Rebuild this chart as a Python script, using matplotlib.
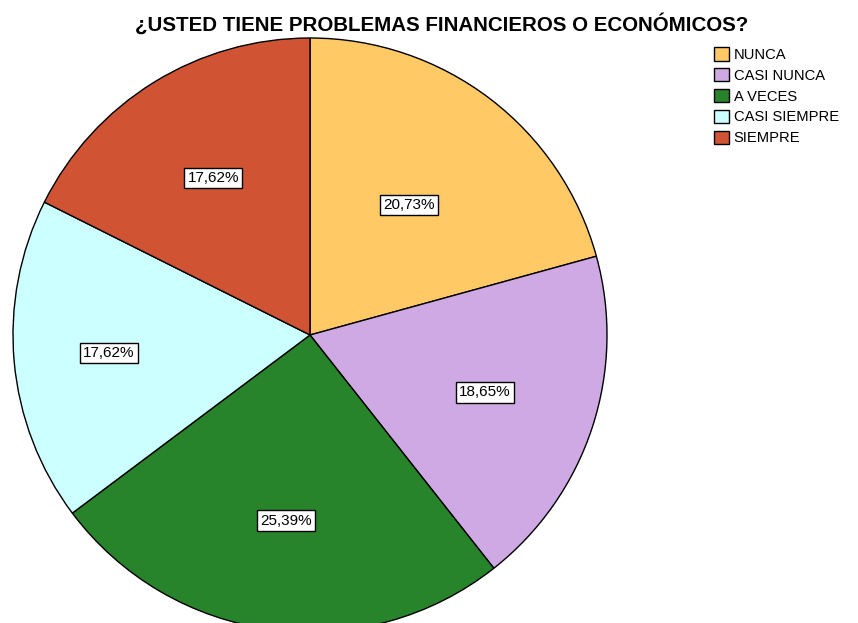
import numpy as np
import matplotlib
matplotlib.use("Agg")
from matplotlib import pyplot as plt
from matplotlib.patches import Patch

plt.rcParams['font.family'] = ['Liberation Sans', 'DejaVu Sans']

categorias = ["NUNCA", "CASI NUNCA", "A VECES", "CASI SIEMPRE", "SIEMPRE"]
porcentajes = [20.73, 18.65, 25.39, 17.62, 17.62]
colores = ["#FFCA66", "#CFA9E3", "#28842A", "#CCFFFF", "#D05434"]
etiquetas = ["20,73%", "18,65%", "25,39%", "17,62%", "17,62%"]
titulo = "¿USTED TIENE PROBLEMAS FINANCIEROS O ECONÓMICOS?"

fig = plt.figure(figsize=(8.58, 6.23), dpi=100)

# ejes del pastel (centro ~ (310,335) px, radio ~297 px)
ax = fig.add_axes([13/858, -9/623, 594/858, 594/623])
wedges, _ = ax.pie(porcentajes, colors=colores, startangle=90, counterclock=False,
                   radius=1, wedgeprops=dict(edgecolor="black", linewidth=1))
ax.set_xlim(-1, 1)
ax.set_ylim(-1, 1)
ax.set_aspect("equal")
ax.axis("off")

# distancia radial de cada etiqueta
dist = [0.55, 0.62, 0.63, 0.68, 0.62]
for w, lab, d in zip(wedges, etiquetas, dist):
    ang = np.deg2rad((w.theta1 + w.theta2) / 2)
    ax.text(d*np.cos(ang), d*np.sin(ang), lab, ha="center", va="center", fontsize=11,
            bbox=dict(boxstyle="square,pad=0.2", fc="white", ec="black", lw=1))

fig.text(442/858, 1 - 24/623, titulo, ha="center", va="center", fontsize=14.8, fontweight="bold")

handles = [Patch(facecolor=c, edgecolor="black", linewidth=1) for c in colores]
leg = fig.legend(handles, categorias, loc="upper left", bbox_to_anchor=(707/858, 1 - 40/623),
                 frameon=False, fontsize=10.6, handlelength=1.0, handleheight=1.0,
                 handletextpad=0.3, labelspacing=0.42, borderpad=0)

fig.savefig("out.png", dpi=100)
